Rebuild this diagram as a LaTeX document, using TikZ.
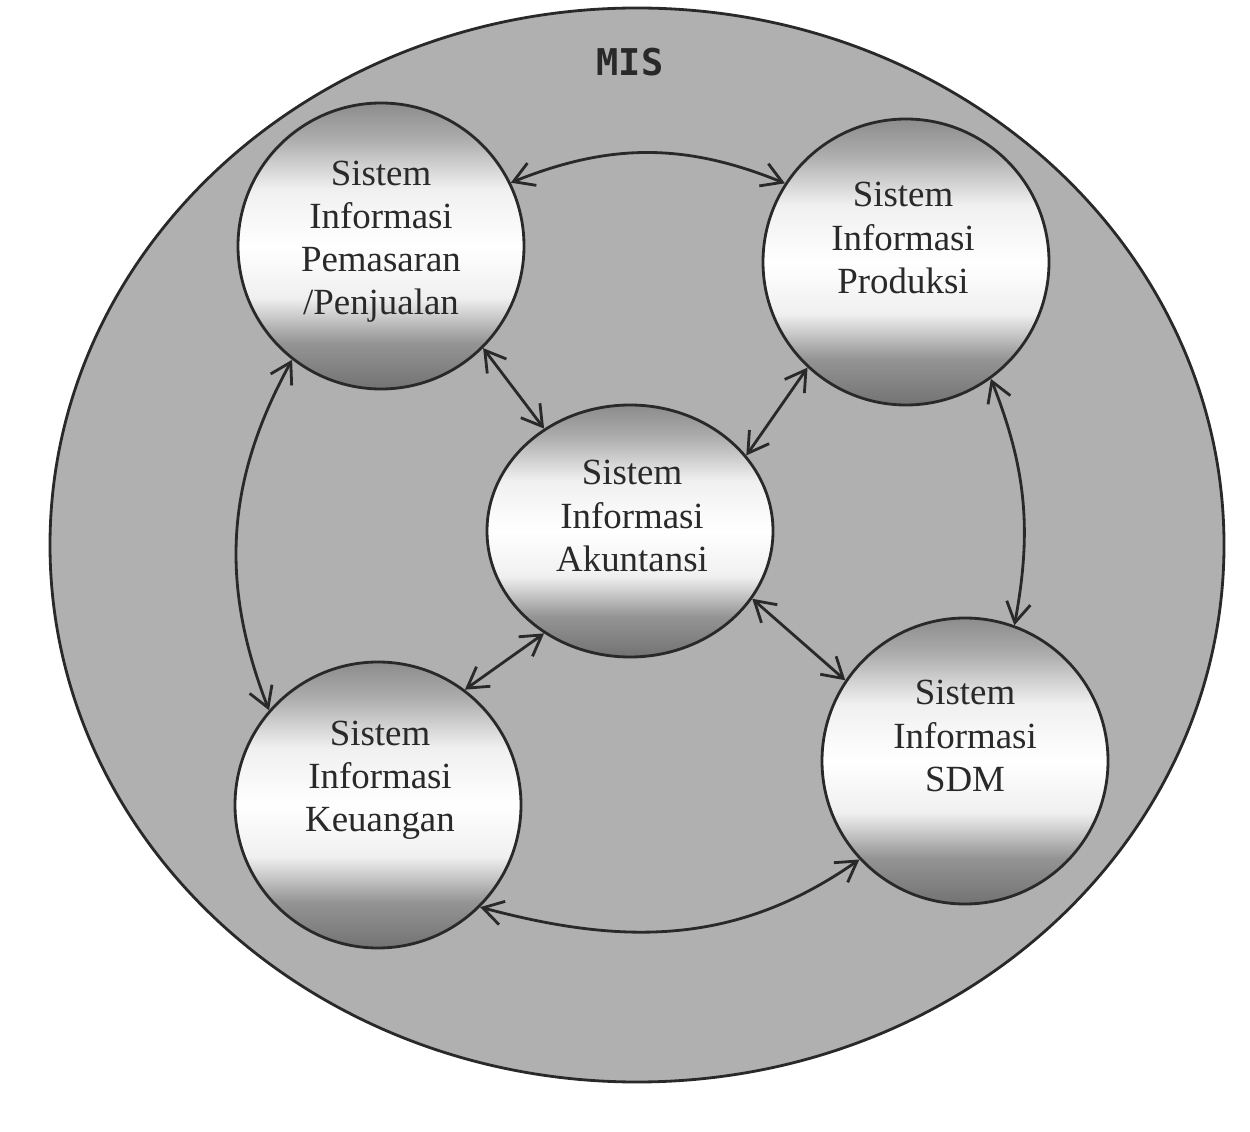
\documentclass[tikz,border=0pt]{standalone}
\usepackage{fontspec}
\setmainfont{Liberation Serif}
\newfontfamily\misfont{DejaVu Sans Mono}
\usetikzlibrary{shapes.geometric,arrows.meta}
\definecolor{ink}{gray}{0.16}
\definecolor{misgray}{gray}{0.69}
\pgfdeclareverticalshading{bubble}{100bp}{color(0bp)=(black!55); color(25bp)=(black!55); color(33bp)=(black!42); color(41bp)=(black!6); color(50bp)=(white); color(60bp)=(black!6); color(69bp)=(black!33); color(75bp)=(black!45); color(100bp)=(black!45)}

\begin{document}
\begin{tikzpicture}[
  nodeMis/.style={ellipse, draw=ink, line width=1.6pt, fill=misgray, minimum width=23.48cm, minimum height=21.48cm, inner sep=0pt},
  nodeSub/.style={circle, draw=ink, line width=1.6pt, shade, shading=bubble, minimum size=5.72cm, inner sep=0pt},
  nodeAkun/.style={ellipse, draw=ink, line width=1.6pt, shade, shading=bubble, minimum width=5.72cm, minimum height=5.04cm, inner sep=0pt},
  labelText/.style={align=center, text=ink, font=\fontsize{21}{24.5}\selectfont},
  arrowBoth/.style={{Straight Barb[length=4mm,width=4.8mm]}-{Straight Barb[length=4mm,width=4.8mm]}, draw=ink, line width=1.6pt}
  ]
  \useasboundingbox[fill=white] (0,0) rectangle (25,22.62);

  % lingkaran luar
  \node[nodeMis] (mis) at (12.74,11.72) {};
  \node[text=ink, font=\misfont\bfseries\fontsize{21}{24}\selectfont] (mistext) at (12.6,21.38) {MIS};

  % subsistem
  \node[nodeSub] (pem) at (7.62,17.70) {};
  \node[nodeSub] (prod) at (18.12,17.38) {};
  \node[nodeAkun] (akun) at (12.60,12.00) {};
  \node[nodeSub] (keu) at (7.56,6.52) {};
  \node[nodeSub] (sdm) at (19.30,7.40) {};

  \node[labelText] (pemtext) at ([yshift=0.8mm]pem.center) {Sistem\\Informasi\\Pemasaran\\/Penjualan};
  \node[labelText] (prodtext) at ([xshift=-0.6mm,yshift=4.8mm]prod.center) {Sistem\\Informasi\\Produksi};
  \node[labelText] (akuntext) at ([xshift=0.4mm,yshift=3mm]akun.center) {Sistem\\Informasi\\Akuntansi};
  \node[labelText] (keutext) at ([xshift=0.4mm,yshift=5mm]keu.center) {Sistem\\Informasi\\Keuangan};
  \node[labelText] (sdmtext) at ([yshift=5mm]sdm.center) {Sistem\\Informasi\\SDM};

  % hubungan
  \draw[arrowBoth] (pem.26) to[bend left=22] (prod.147);
  \draw[arrowBoth] (pem.-128) to[bend right=25] (keu.139);
  \draw[arrowBoth] (prod.-54) to[bend left=16] (sdm.70);
  \draw[arrowBoth] (keu.-45) to[out=-15, in=215] (sdm.223);
  \draw[arrowBoth] (pem.-45) -- (akun.130);
  \draw[arrowBoth] (prod.227) -- (akun.33);
  \draw[arrowBoth] (akun.230) -- (keu.53);
  \draw[arrowBoth] (akun.-29) -- (sdm.146);
\end{tikzpicture}
\end{document}
